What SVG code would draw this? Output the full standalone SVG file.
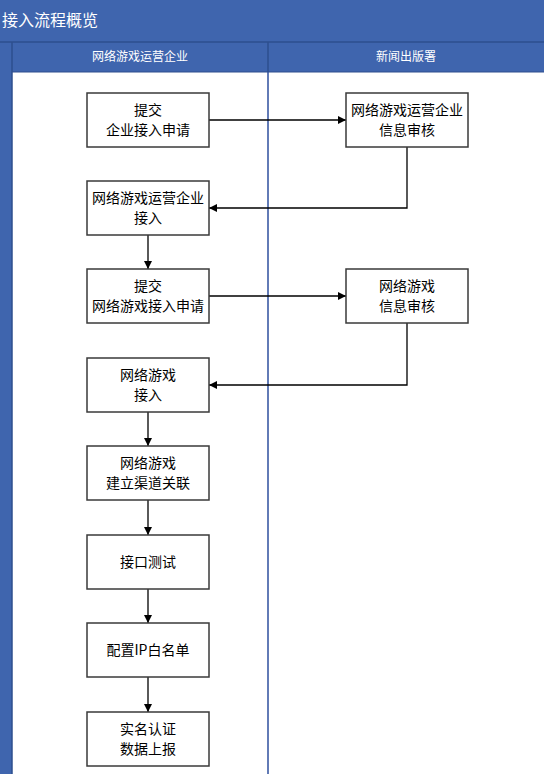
<svg xmlns="http://www.w3.org/2000/svg" width="544" height="774" viewBox="0 0 544 774">
<defs>
<style>
.bg{fill:#3F65AE}
.sep{stroke:#2E4F8E;stroke-width:1.5;fill:none}
.box{fill:#fff;stroke:#3A3A3A;stroke-width:1.5}
.t{font-family:"Noto Sans CJK SC","Liberation Sans",sans-serif;font-size:14px;fill:#000;text-anchor:middle}
.h{font-family:"Noto Sans CJK SC","Liberation Sans",sans-serif;font-size:12px;fill:#fff;text-anchor:middle}
.conn{stroke:#000;stroke-width:1.3;fill:none;marker-end:url(#ah)}
</style>
<marker id="ah" viewBox="0 0 10 10" refX="10" refY="5" markerWidth="8" markerHeight="8" markerUnits="userSpaceOnUse" orient="auto">
<path d="M0,0 L10,5 L0,10 z" fill="#000"/>
</marker>
</defs>
<rect x="0" y="0" width="544" height="774" fill="#fff"/>
<rect class="bg" x="0" y="0" width="544" height="72"/>
<rect class="bg" x="0" y="0" width="12" height="774"/>
<line class="sep" x1="0" y1="42" x2="544" y2="42"/>
<line class="sep" x1="12" y1="42" x2="12" y2="774"/>
<line class="sep" x1="268" y1="42" x2="268" y2="72"/>
<line x1="12" y1="72" x2="544" y2="72" stroke="#2E4F8E" stroke-width="1"/>
<line x1="268" y1="72" x2="268" y2="774" stroke="#2E4F9E" stroke-width="1.5"/>
<text x="2" y="26" font-family="Noto Sans CJK SC,Liberation Sans,sans-serif" font-size="16" fill="#fff">接入流程概览</text>
<text class="h" x="140" y="61">网络游戏运营企业</text>
<text class="h" x="406" y="61">新闻出版署</text>

<g id="connectors">
<path class="conn" d="M209,120 H346"/>
<path class="conn" d="M407,147 V208 H209"/>
<path class="conn" d="M148,235 V269"/>
<path class="conn" d="M209,296 H346"/>
<path class="conn" d="M407,323 V385 H209"/>
<path class="conn" d="M148,412 V446"/>
<path class="conn" d="M148,500 V535"/>
<path class="conn" d="M148,589 V623"/>
<path class="conn" d="M148,677 V712"/>
</g>

<g id="n1"><rect class="box" x="87" y="93" width="122" height="54"/><text class="t" x="148" y="115">提交</text><text class="t" x="148" y="135">企业接入申请</text></g>
<g id="n2"><rect class="box" x="87" y="181" width="122" height="54"/><text class="t" x="148" y="203">网络游戏运营企业</text><text class="t" x="148" y="223">接入</text></g>
<g id="n3"><rect class="box" x="87" y="269" width="122" height="54"/><text class="t" x="148" y="291">提交</text><text class="t" x="148" y="311">网络游戏接入申请</text></g>
<g id="n4"><rect class="box" x="87" y="358" width="122" height="54"/><text class="t" x="148" y="380">网络游戏</text><text class="t" x="148" y="400">接入</text></g>
<g id="n5"><rect class="box" x="87" y="446" width="122" height="54"/><text class="t" x="148" y="468">网络游戏</text><text class="t" x="148" y="488">建立渠道关联</text></g>
<g id="n6"><rect class="box" x="87" y="535" width="122" height="54"/><text class="t" x="148" y="567">接口测试</text></g>
<g id="n7"><rect class="box" x="87" y="623" width="122" height="54"/><text class="t" x="148" y="655">配置IP白名单</text></g>
<g id="n8"><rect class="box" x="87" y="712" width="122" height="54"/><text class="t" x="148" y="734">实名认证</text><text class="t" x="148" y="754">数据上报</text></g>
<g id="r1"><rect class="box" x="346" y="93" width="122" height="54"/><text class="t" x="407" y="115">网络游戏运营企业</text><text class="t" x="407" y="135">信息审核</text></g>
<g id="r2"><rect class="box" x="346" y="269" width="122" height="54"/><text class="t" x="407" y="291">网络游戏</text><text class="t" x="407" y="311">信息审核</text></g>
</svg>
